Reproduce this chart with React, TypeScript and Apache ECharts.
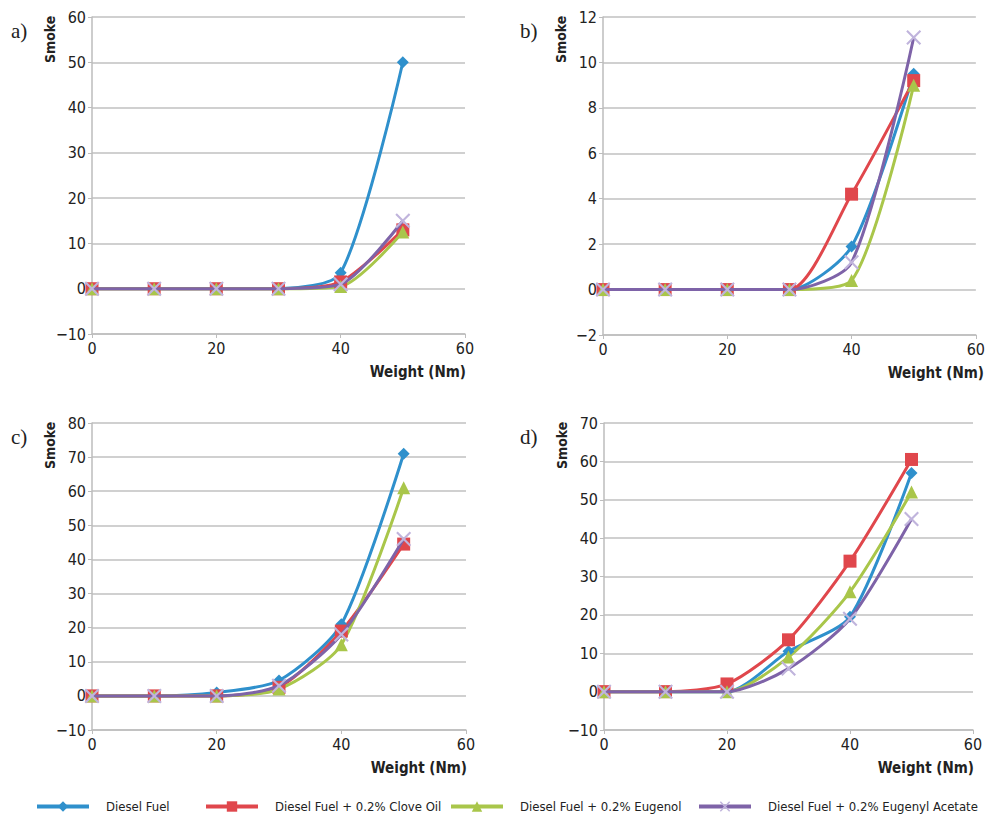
import React, { useEffect, useRef } from "react";
import * as echarts from "echarts";

const weights = [0, 10, 20, 30, 40, 50];

const seriesNames = [
	"Diesel Fuel",
	"Diesel Fuel + 0.2% Clove Oil",
	"Diesel Fuel + 0.2% Eugenol",
	"Diesel Fuel + 0.2% Eugenyl Acetate",
];

// panel a
const aDiesel = [0, 0, 0, 0, 3.5, 50];
const aClove = [0, 0, 0, 0, 1.5, 13];
const aEugenol = [0, 0, 0, 0, 0.5, 12.5];
const aAcetate = [0, 0, 0, 0, 1, 15];

// panel b
const bDiesel = [0, 0, 0, 0, 1.9, 9.5];
const bClove = [0, 0, 0, 0, 4.2, 9.2];
const bEugenol = [0, 0, 0, 0, 0.4, 9];
const bAcetate = [0, 0, 0, 0, 1.2, 11.1];

// panel c
const cDiesel = [0, 0, 1, 4.5, 21, 71];
const cClove = [0, 0, 0, 2.5, 19, 44.5];
const cEugenol = [0, 0, 0, 2, 15, 61];
const cAcetate = [0, 0, 0, 3, 18, 46];

// panel d
const dDiesel = [0, 0, 0, 10.5, 19.5, 57];
const dClove = [0, 0, 2, 13.5, 34, 60.5];
const dEugenol = [0, 0, 0, 9, 26, 52];
const dAcetate = [0, 0, 0, 6, 19, 45];

const panelLabels = ["a)", "b)", "c)", "d)"];
const yMins = [-10, -2, -10, -10];
const yMaxs = [60, 12, 80, 70];
const yIntervals = [10, 2, 10, 10];

const colors = ["#2f90cc", "#e0474c", "#a9c64a", "#7e63a8"];
const crossPath =
	"path://M0,1 L1,0 L5,4 L9,0 L10,1 L6,5 L10,9 L9,10 L5,6 L1,10 L0,9 L4,5 Z";
const symbols = ["diamond", "rect", "triangle", crossPath];
const symbolSizes = [12, 13, 13, 15];
const symbolColors = ["#2f90cc", "#e0474c", "#a9c64a", "#c0b4dc"];

const narrow = "'Liberation Sans Narrow', 'DejaVu Sans Condensed', sans-serif";

const grids = [
	{ left: 92, top: 17, width: 373, height: 317 },
	{ left: 603, top: 17, width: 380, height: 318 },
	{ left: 92, top: 423, width: 374, height: 307 },
	{ left: 604, top: 423, width: 369, height: 307 },
];

const App = () => {
	const chartRef = useRef(null);

	useEffect(() => {
		document.body.style.margin = "0";
		if (!chartRef.current) return;
		const chart = echarts.init(chartRef.current, null, { renderer: "svg" });

		const panels = [
			[aDiesel, aClove, aEugenol, aAcetate],
			[bDiesel, bClove, bEugenol, bAcetate],
			[cDiesel, cClove, cEugenol, cAcetate],
			[dDiesel, dClove, dEugenol, dAcetate],
		];

		const series = [];
		panels.forEach((panel, p) => {
			panel.forEach((vals, s) => {
				series.push({
					name: seriesNames[s],
					type: "line",
					xAxisIndex: p,
					yAxisIndex: p,
					smooth: 0.25,
					data: weights.map((w, i) => [w, vals[i]]),
					symbol: symbols[s],
					symbolSize: symbolSizes[s],
					showAllSymbol: true,
					lineStyle: { color: colors[s], width: 3 },
					itemStyle: { color: symbolColors[s] },
					z: s === 3 ? 3 : 2,
				});
			});
		});

		const legendLefts = [30, 199, 444, 692];
		const legends = seriesNames.map((name, i) => ({
			data: [name],
			left: legendLefts[i],
			top: 795,
			itemWidth: 52,
			itemHeight: 13,
			itemGap: 10,
			lineStyle: { width: 4 },
			textStyle: {
				fontFamily: narrow,
				fontSize: 13,
				color: "#222",
				padding: [0, 0, 0, 12],
			},
			selectedMode: false,
		}));

		const graphic = [];
		grids.forEach((g, i) => {
			graphic.push({
				type: "text",
				left: i % 2 === 0 ? 11 : 520,
				top: g.top + 3,
				style: {
					text: panelLabels[i],
					font: "21px 'Liberation Serif', serif",
					fill: "#222",
				},
			});
			graphic.push({
				type: "text",
				x: g.left - 42,
				y: g.top + 46,
				rotation: Math.PI / 2,
				style: {
					text: "Smoke",
					font: "bold 14px " + narrow,
					fill: "#222",
					textAlign: "left",
					textVerticalAlign: "middle",
				},
			});
			graphic.push({
				type: "text",
				x: g.left + g.width + 1,
				y: g.top + g.height + 38,
				style: {
					text: "Weight (Nm)",
					font: "bold 15px " + narrow,
					fill: "#222",
					textAlign: "right",
					textVerticalAlign: "middle",
				},
			});
		});

		const option = {
			animation: false,
			backgroundColor: "#fff",
			grid: grids.map((g) => ({ ...g, containLabel: false })),
			xAxis: grids.map((g, i) => ({
				type: "value",
				gridIndex: i,
				min: 0,
				max: 60,
				interval: 20,
				axisLine: { onZero: false, lineStyle: { color: "#bdbdbd", width: 1.5 } },
				axisTick: { show: true, length: 4, lineStyle: { color: "#bdbdbd" } },
				axisLabel: {
					fontFamily: narrow,
					fontSize: 16,
					color: "#222",
					margin: 6,
				},
				splitLine: { show: false },
			})),
			yAxis: grids.map((g, i) => ({
				type: "value",
				gridIndex: i,
				min: yMins[i],
				max: yMaxs[i],
				interval: yIntervals[i],
				axisLine: { show: true, lineStyle: { color: "#bdbdbd", width: 1.5 } },
				axisTick: { show: true, length: 4, lineStyle: { color: "#bdbdbd" } },
				axisLabel: {
					fontFamily: narrow,
					fontSize: 16,
					color: "#222",
					margin: 6,
					formatter: (v) => (v < 0 ? "\u2212" + Math.abs(v) : String(v)),
				},
				splitLine: { show: true, lineStyle: { color: "#d0d0d0", width: 1.8 } },
			})),
			legend: legends,
			graphic,
			series,
		};

		chart.setOption(option);

		return () => {
			chart.dispose();
		};
	}, []);

	return <div ref={chartRef} style={{ width: "988px", height: "814px" }} />;
};

export default App;
